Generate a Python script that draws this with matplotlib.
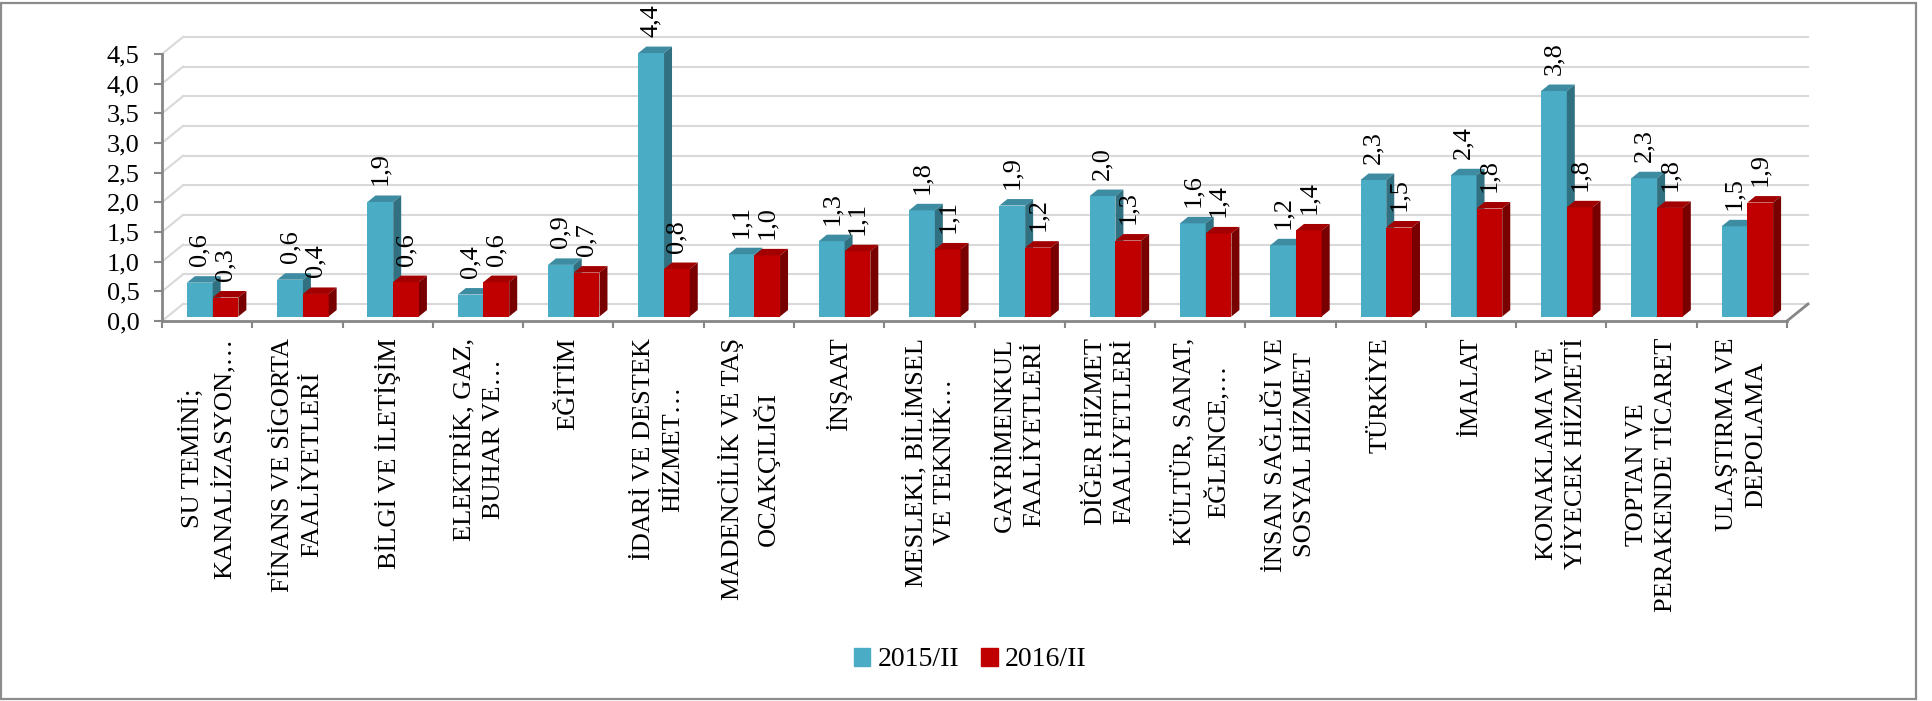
import numpy as np
import matplotlib.pyplot as plt
from matplotlib.patches import Polygon, Rectangle, Patch

categories = [
    "SU TEMİNİ;\nKANALİZASYON,…",
    "FİNANS VE SİGORTA\nFAALİYETLERİ",
    "BİLGİ VE İLETİŞİM",
    "ELEKTRİK, GAZ,\nBUHAR VE…",
    "EĞİTİM",
    "İDARİ VE DESTEK\nHİZMET…",
    "MADENCİLİK VE TAŞ\nOCAKÇILIĞI",
    "İNŞAAT",
    "MESLEKİ, BİLİMSEL\nVE TEKNİK…",
    "GAYRİMENKUL\nFAALİYETLERİ",
    "DİĞER HİZMET\nFAALİYETLERİ",
    "KÜLTÜR, SANAT,\nEĞLENCE,…",
    "İNSAN SAĞLIĞI VE\nSOSYAL HİZMET",
    "TÜRKİYE",
    "İMALAT",
    "KONAKLAMA VE\nYİYECEK HİZMETİ",
    "TOPTAN VE\nPERAKENDE TİCARET",
    "ULAŞTIRMA VE\nDEPOLAMA",
]
v2015 = [0.57, 0.62, 1.93, 0.37, 0.87, 4.44, 1.05, 1.27, 1.79, 1.87, 2.03, 1.57, 1.20, 2.30, 2.38, 3.80, 2.33, 1.52]
v2016 = [0.32, 0.38, 0.58, 0.58, 0.74, 0.80, 1.03, 1.10, 1.13, 1.16, 1.28, 1.40, 1.45, 1.50, 1.82, 1.84, 1.83, 1.92]
series = ["2015/II", "2016/II"]
yticks = np.arange(0, 4.51, 0.5)

plt.rcParams['font.family'] = ['Liberation Serif', 'DejaVu Serif']

W, H = 1932, 701
fig = plt.figure(figsize=(W / 100, H / 100), dpi=100)
# front axis: x from 162 to 1787 px, y=0 at 321 px, 4.5 at 54 px (from top)
ax = fig.add_axes([162 / W, (H - 321) / H, (1787 - 162) / W, (321 - 54) / H])
n = len(categories)
ax.set_xlim(0, n)
ax.set_ylim(0, 4.5)

# pixel -> data units
ux = n / ax.bbox.width
uy = 4.5 / ax.bbox.height
wdx, wdy = 21 * ux, 17 * uy      # back wall offset
fdx, fdy = 5.5 * ux, 4.5 * uy    # bar front offset
ddx, ddy = 8 * ux, 6.5 * uy      # bar depth

axis_col = '#868686'
grid_col = '#d9d9d9'

# back wall grid + left side wall
for t in yticks:
    ax.plot([wdx, n + wdx], [t + wdy, t + wdy], color=grid_col, lw=1.5, clip_on=False, zorder=1)
    ax.plot([0, wdx], [t, t + wdy], color=grid_col, lw=1.5, clip_on=False, zorder=1)
# right floor edge
ax.plot([n, n + wdx], [0, wdy], color=axis_col, lw=2, clip_on=False, zorder=2)

w = 0.285
colors = {
    0: ('#4bacc6', '#3d8ca2', '#317080'),
    1: ('#c00000', '#a20000', '#780000'),
}

for k, vals in enumerate([v2015, v2016]):
    front, top, side = colors[k]
    xl = np.arange(n) + 0.5 - w + k * w + fdx
    bars = ax.bar(xl, vals, width=w, bottom=fdy, align='edge', color=front,
                  zorder=3 + k, label=series[k])
    for b in bars:
        b.set_clip_on(False)
    for x, v in zip(xl, vals):
        yt = v + fdy
        ax.add_patch(Polygon([(x, yt), (x + w, yt), (x + w + ddx, yt + ddy), (x + ddx, yt + ddy)],
                             closed=True, fc=top, ec='none', zorder=3 + k, clip_on=False))
        ax.add_patch(Polygon([(x + w, fdy), (x + w, yt), (x + w + ddx, yt + ddy), (x + w + ddx, fdy + ddy)],
                             closed=True, fc=side, ec='none', zorder=3 + k, clip_on=False))
        ax.text(x + w / 2, yt + ddy + 10 * uy, f"{v:.1f}".replace('.', ','),
                rotation=90, ha='center', va='bottom', fontsize=19, zorder=6, clip_on=False)

# axes
for s in ['top', 'right']:
    ax.spines[s].set_visible(False)
for s in ['left', 'bottom']:
    ax.spines[s].set_color(axis_col)
    ax.spines[s].set_linewidth(2)
    ax.spines[s].set_zorder(2)

ax.set_yticks(yticks)
ax.set_yticklabels([f"{t:.1f}".replace('.', ',') for t in yticks], fontsize=19)
ax.tick_params(axis='y', direction='out', length=5.8, width=1.5, color=axis_col, pad=10.5)

ax.set_xticks(np.arange(n + 1))
ax.set_xticklabels([])
ax.tick_params(axis='x', which='major', direction='out', length=5, width=1.5, color=axis_col)
ax.set_xticks(np.arange(n) + 0.5, minor=True)
ax.set_xticklabels(categories, minor=True, rotation=90, va='top', ha='center',
                   multialignment='center', fontsize=19, linespacing=1.4)
ax.tick_params(axis='x', which='minor', length=0, pad=12)

handles = [Patch(color=colors[0][0]), Patch(color=colors[1][0])]
fig.legend(handles, series, loc='center', bbox_to_anchor=(970 / W, 1 - 660 / H),
           ncol=2, frameon=False, fontsize=20, handlelength=0.6, handleheight=0.6,
           handletextpad=0.25, columnspacing=0.8)

fig.add_artist(Rectangle((1 / W, 2 / H), 1915 / W, 696 / H, transform=fig.transFigure,
                         fill=False, ec='#8c8c8c', lw=1.6))

fig.savefig('out.png', dpi=100)
